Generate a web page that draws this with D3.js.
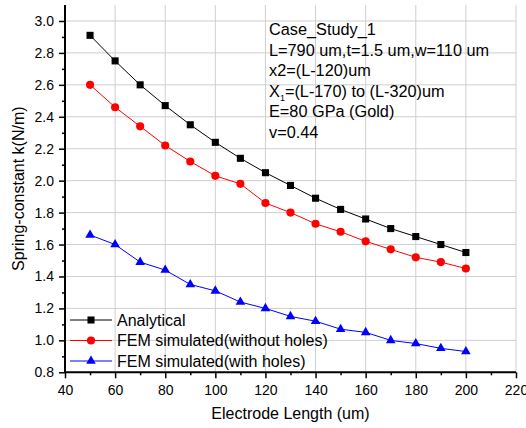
<!DOCTYPE html>
<html>
<head>
<meta charset="utf-8">
<script src="https://cdn.jsdelivr.net/npm/d3@7"></script>
<style>
  body { margin: 0; background: #fff; }
  svg { display: block; font-family: "Liberation Sans", Arial, sans-serif; }
</style>
</head>
<body>
<svg id="chart" width="526" height="428"></svg>
<script>
// electrode length (um)
const lengths = [50, 60, 70, 80, 90, 100, 110, 120, 130, 140, 150, 160, 170, 180, 190, 200];
const analytical = [2.91, 2.75, 2.60, 2.47, 2.35, 2.24, 2.14, 2.05, 1.97, 1.89, 1.82, 1.76, 1.70, 1.65, 1.60, 1.55];
const femNoHoles = [2.60, 2.46, 2.34, 2.22, 2.12, 2.03, 1.98, 1.86, 1.80, 1.73, 1.68, 1.62, 1.57, 1.52, 1.49, 1.45];
const femHoles = [1.66, 1.60, 1.49, 1.44, 1.35, 1.31, 1.24, 1.20, 1.15, 1.12, 1.07, 1.05, 1.00, 0.98, 0.95, 0.93];
const xTicks = [40, 60, 80, 100, 120, 140, 160, 180, 200, 220];
const yTicks = [0.8, 1.0, 1.2, 1.4, 1.6, 1.8, 2.0, 2.2, 2.4, 2.6, 2.8, 3.0];
const seriesNames = ["Analytical", "FEM simulated(without holes)", "FEM simulated(with holes)"];
const noteLines = ["Case_Study_1", "L=790 um,t=1.5 um,w=110 um", "x2=(L-120)um", "X1=(L-170) to (L-320)um", "E=80 GPa (Gold)", "v=0.44"];

const svg = d3.select("#chart");
const margin = { left: 65, right: 10, top: 5, bottom: 56 };

const x = d3.scaleLinear().domain([40, 220]).range([margin.left, 516]);
const y = d3.scaleLinear().domain([0.8, 3.1]).range([372.3, margin.top]);

// grid
const grid = svg.append("g").attr("stroke", "#cfcfcf").attr("stroke-width", 1);
grid.selectAll("line.v").data(xTicks.slice(1)).join("line")
    .attr("x1", d => x(d)).attr("x2", d => x(d))
    .attr("y1", y(3.1)).attr("y2", y(0.8));
grid.selectAll("line.h").data(yTicks.slice(1)).join("line")
    .attr("y1", d => y(d)).attr("y2", d => y(d))
    .attr("x1", x(40)).attr("x2", x(220));

// axes
const xAxis = d3.axisBottom(x).tickValues(xTicks).tickFormat(d3.format("d")).tickSize(6).tickPadding(7);
const xMinor = d3.axisBottom(x).tickValues(d3.range(50, 220, 20)).tickSize(3).tickFormat("");
const yAxis = d3.axisLeft(y).tickValues(yTicks).tickFormat(d3.format(".1f")).tickSize(6).tickPadding(5);
const yMinor = d3.axisLeft(y).tickValues(d3.range(0.9, 3.05, 0.2)).tickSize(3).tickFormat("");

const styleAxis = g => {
    g.select(".domain").remove();
    g.selectAll(".tick line").attr("stroke", "#000").attr("stroke-width", 1.5);
    g.selectAll("text").attr("fill", "#000").style("font-size", "14px");
};

svg.append("g").attr("transform", `translate(0,${y(0.8)})`).call(xAxis).call(styleAxis);
svg.append("g").attr("transform", `translate(0,${y(0.8)})`).call(xMinor).call(styleAxis);
svg.append("g").attr("transform", `translate(${x(40)},0)`).call(yAxis).call(styleAxis);
svg.append("g").attr("transform", `translate(${x(40)},0)`).call(yMinor).call(styleAxis);

svg.append("line").attr("stroke", "#000").attr("stroke-width", 2)
    .attr("x1", x(40)).attr("x2", x(220)).attr("y1", y(0.8)).attr("y2", y(0.8));
svg.append("line").attr("stroke", "#000").attr("stroke-width", 2)
    .attr("x1", x(40)).attr("x2", x(40)).attr("y1", y(3.1)).attr("y2", y(0.8));

// titles
svg.append("text").attr("x", (x(40) + x(220)) / 2).attr("y", 419)
    .attr("text-anchor", "middle").style("font-size", "16px").text("Electrode Length (um)");
svg.append("text").attr("transform", `translate(24,${(y(0.8) + y(3.1)) / 2}) rotate(-90)`)
    .attr("text-anchor", "middle").style("font-size", "16px").text("Spring-constant k(N/m)");

// series
const series = [
    { name: seriesNames[0], values: analytical, color: "#000", symbol: d3.symbolSquare, size: 50 },
    { name: seriesNames[1], values: femNoHoles, color: "#ff0000", symbol: d3.symbolCircle, size: 52 },
    { name: seriesNames[2], values: femHoles, color: "#0000ff", symbol: d3.symbolTriangle, size: 40 }
];

const line = d3.line().x((d, i) => x(lengths[i])).y(d => y(d));

series.forEach(s => {
    svg.append("path").datum(s.values)
        .attr("fill", "none").attr("stroke", s.color).attr("stroke-width", 1)
        .attr("d", line);
    svg.selectAll(null).data(s.values).join("path")
        .attr("transform", (d, i) => `translate(${x(lengths[i])},${y(d)})`)
        .attr("fill", s.color)
        .attr("d", d3.symbol().type(s.symbol).size(s.size)());
});

// legend
const legend = svg.append("g").attr("transform", "translate(70,320)");
series.forEach((s, i) => {
    const row = legend.append("g").attr("transform", `translate(0,${i * 20.5})`);
    row.append("line").attr("x1", 0).attr("x2", 42).attr("stroke", s.color).attr("stroke-width", 1);
    row.append("path").attr("transform", "translate(21,0)").attr("fill", s.color)
        .attr("d", d3.symbol().type(s.symbol).size(s.size)());
    row.append("text").attr("x", 47).attr("y", 5.8).style("font-size", "16px").text(s.name);
});

// annotation
const note = svg.append("text").style("font-size", "16.3px");
noteLines.forEach((t, i) => {
    const ts = note.append("tspan").attr("x", 269).attr("y", 35 + i * 20.6);
    if (t.startsWith("X1")) {
        ts.text("X");
        ts.append("tspan").attr("dy", 4).style("font-size", "9px").text("1");
        ts.append("tspan").attr("dy", -4).text(t.slice(2));
    } else {
        ts.text(t);
    }
});
</script>
</body>
</html>
